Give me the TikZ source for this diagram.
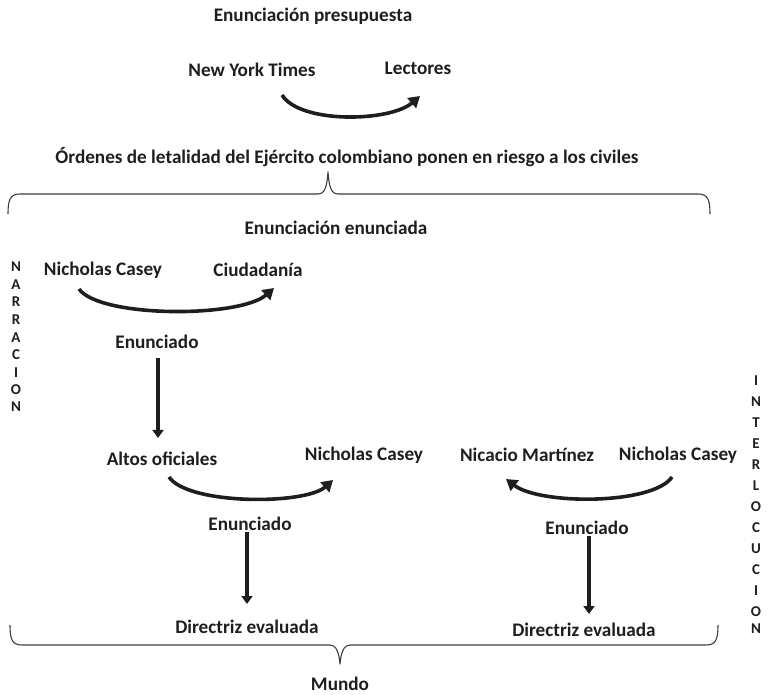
\documentclass[tikz,border=0pt]{standalone}
\usepackage{fontspec}
\setmainfont{Carlito}
\usetikzlibrary{arrows.meta}
\definecolor{ink}{RGB}{30,30,30}
\definecolor{rule}{RGB}{60,60,60}
\begin{document}
\begin{tikzpicture}[x=1pt,y=-1pt,
  lbl/.style={text=ink,font=\fontsize{19.2}{22}\selectfont\bfseries,inner sep=1pt},
  vword/.style={text=ink,font=\fontsize{15}{17}\selectfont\bfseries,align=center,inner sep=0pt},
  curvearrow/.style={draw=ink,line width=3.6pt,-{Triangle[length=11pt,width=13pt]}},
  droparrow/.style={draw=ink,line width=4.5pt,-{Triangle[length=8pt,width=11pt]}},
  bracepath/.style={draw=rule,line width=1.1pt,line join=round}]
\useasboundingbox (0,0) rectangle (777,694);

% headings
\node[lbl] (ep) at (313,16) {Enunciación presupuesta};
\node[lbl] (nyt) at (252,70) {New York Times};
\node[lbl] (lec) at (418,68) {Lectores};
\node[lbl] (title) at (347,157) {Órdenes de letalidad del Ejército colombiano ponen en riesgo a los civiles};
\node[lbl] (ee) at (336,228) {Enunciación enunciada};

% side words
\node[vword,text width=14pt] (narr) at (16,337)
  {\baselineskip=17.6pt N\\A\\R\\R\\A\\C\\I\\O\\N};
\node[vword,text width=14pt] (inter) at (756,505)
  {\baselineskip=21pt I\\N\\T\\E\\R\\L\\O\\C\\U\\C\\I\\O\\N};

% narration column
\node[lbl] (nc1) at (103,270) {Nicholas Casey};
\node[lbl] (ciu) at (258,270) {Ciudadanía};
\node[lbl] (en1) at (157,342) {Enunciado};
\node[lbl] (ao) at (162,459) {Altos oficiales};
\node[lbl] (nc2) at (364,455) {Nicholas Casey};
\node[lbl] (en2) at (250,524) {Enunciado};
\node[lbl] (de1) at (247,627) {Directriz evaluada};

% interlocution column
\node[lbl] (nm) at (527,455) {Nicacio Martínez};
\node[lbl] (nc3) at (678,455) {Nicholas Casey};
\node[lbl] (en3) at (587,528) {Enunciado};
\node[lbl] (de2) at (584,630) {Directriz evaluada};

\node[lbl] (mundo) at (340,684) {Mundo};

% curved arrows
\coordinate (a1s) at (282,95);
\coordinate (a1e) at (420,96);
\draw[curvearrow] (a1s) .. controls (300,124) and (390,122) .. (a1e);
\coordinate (a2s) at (79,289);
\coordinate (a2e) at (274,288);
\draw[curvearrow] (a2s) .. controls (100,318) and (240,318) .. (a2e);
\coordinate (a3s) at (169,477);
\coordinate (a3e) at (333,480);
\draw[curvearrow] (a3s) .. controls (188,505) and (305,505) .. (a3e);
\coordinate (a4s) at (672,477);
\coordinate (a4e) at (506,479);
\draw[curvearrow] (a4s) .. controls (653,505) and (540,505) .. (a4e);

% straight arrows
\draw[droparrow] ([xshift=1pt,yshift=-8pt]en1.south) -- ([xshift=1pt,yshift=13pt]en1.south |- ao.north);
\draw[droparrow] ([xshift=-3pt]en2.south) -- ([xshift=-3pt,yshift=15pt]en2.south |- de1.north);
\draw[droparrow] ([xshift=2pt]en3.south) -- ([xshift=2pt,yshift=8pt]en3.south |- de2.north);

% braces
\draw[bracepath] (8,214) .. controls (8,200) and (10,194) .. (20,194) -- (318,194)
  .. controls (325,194) and (327,186) .. (328,172)
  .. controls (329,186) and (331,194) .. (338,194) -- (698,194)
  .. controls (708,194) and (710,200) .. (710,214);
\draw[bracepath] (10,625) .. controls (10,639) and (12,645) .. (22,645) -- (330,645)
  .. controls (336,645) and (339,652) .. (340,664)
  .. controls (341,652) and (344,645) .. (350,645) -- (706,645)
  .. controls (716,645) and (718,639) .. (718,625);
\end{tikzpicture}
\end{document}
